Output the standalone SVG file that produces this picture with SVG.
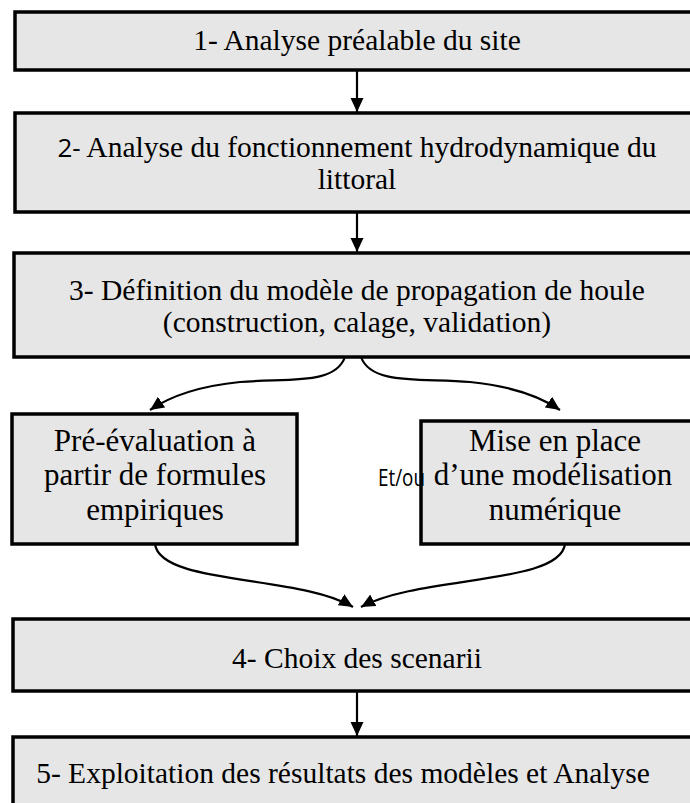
<svg xmlns="http://www.w3.org/2000/svg" width="690" height="803" viewBox="0 0 690 803">
<defs>
<style>
.box{fill:#e6e6e6;stroke:#000;stroke-width:3.5}
.t{font-family:'Liberation Serif','Times New Roman','DejaVu Serif',serif;font-size:29.5px;fill:#000;text-anchor:middle}
.b{font-size:31px}
.s{font-family:'Open Sans','Noto Sans',sans-serif;font-size:26px}
.c{fill:none;stroke:#000;stroke-width:2.2}
</style>
<marker id="ah" markerUnits="userSpaceOnUse" markerWidth="16" markerHeight="14" refX="14" refY="6.5" orient="auto" viewBox="0 0 16 14">
<path d="M0,0 L14,6.5 L0,13 z" fill="#000"/>
</marker>
</defs>
<rect width="690" height="803" fill="#fff"/>
<g id="n1"><rect class="box" x="15" y="12" width="690" height="58"/><text class="t" x="357" y="50">1- Analyse préalable du site</text></g>
<g id="n2"><rect class="box" x="15" y="113" width="690" height="99"/><text class="t" x="357" y="157"><tspan class="s">2-</tspan> Analyse du fonctionnement hydrodynamique du</text><text class="t" x="357" y="189">littoral</text></g>
<g id="n3"><rect class="box" x="14" y="253" width="690" height="104"/><text class="t" x="357" y="300">3- Définition du modèle de propagation de houle</text><text class="t" x="357" y="332">(construction, calage, validation)</text></g>
<g id="nL"><rect class="box" x="12" y="414" width="285" height="130"/><text class="t b" x="155" y="451">Pré-évaluation à</text><text class="t b" x="155" y="485">partir de formules</text><text class="t b" x="155" y="520">empiriques</text></g>
<g id="nR"><rect class="box" x="421" y="421" width="290" height="123"/><text class="t b" x="555" y="451">Mise en place</text><text class="t b" x="553" y="485">d’une modélisation</text><text class="t b" x="555" y="520">numérique</text></g>
<text id="etou" x="378" y="486" font-family="'Open Sans','Noto Sans',sans-serif" font-size="23" textLength="47" lengthAdjust="spacingAndGlyphs">Et/ou</text>
<g id="n4"><rect class="box" x="13" y="619" width="690" height="72"/><text class="t" x="357" y="668">4- Choix des scenarii</text></g>
<g id="n5"><rect class="box" x="13" y="737" width="690" height="90"/><text class="t" x="343" y="783">5- Exploitation des résultats des modèles et Analyse</text></g>
<g id="connectors">
<line class="c" x1="357" y1="70" x2="357" y2="112" marker-end="url(#ah)"/>
<line class="c" x1="357" y1="212" x2="357" y2="252" marker-end="url(#ah)"/>
<line class="c" x1="357" y1="691" x2="357" y2="736" marker-end="url(#ah)"/>
<path class="c" d="M345,357 C335,385 290,378 240,382 C200,386 172,395 150,410" marker-end="url(#ah)"/>
<path class="c" d="M361,357 C371,385 420,378 470,382 C510,386 538,395 560,410" marker-end="url(#ah)"/>
<path class="c" d="M155,544 C160,585 300,575 353,607" marker-end="url(#ah)"/>
<path class="c" d="M565,544 C560,585 420,575 361,607" marker-end="url(#ah)"/>
</g>
</svg>
